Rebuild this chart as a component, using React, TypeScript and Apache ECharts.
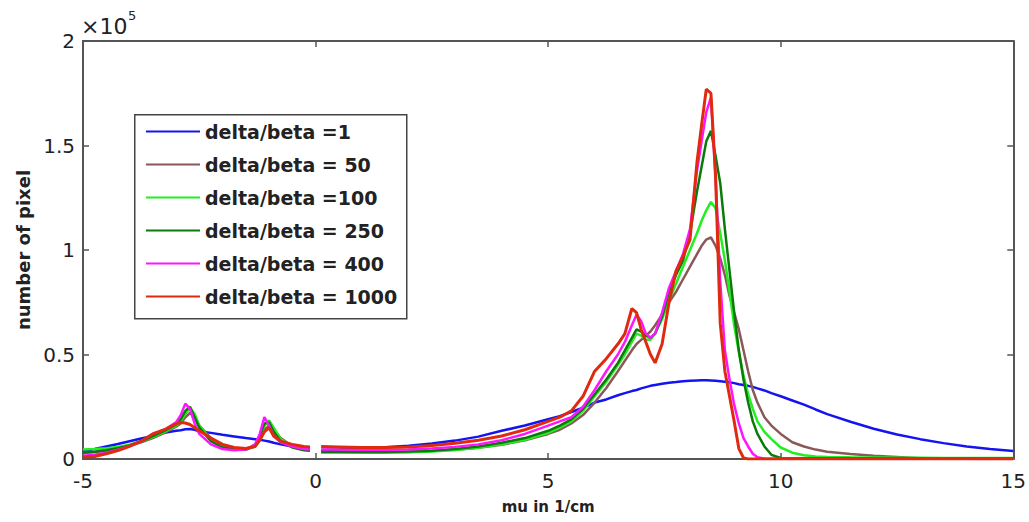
import React, { useEffect, useRef } from "react";
import * as echarts from "echarts";

// x positions (mu in 1/cm); null value marks the gap at 0
const muValues: number[] = [
  -5, -4.75, -4.5, -4.25, -4, -3.75, -3.5, -3.25, -3, -2.9, -2.8, -2.7, -2.6, -2.5, -2.25, -2, -1.75, -1.5, -1.3, -1.2, -1.1, -1.0, -0.9, -0.75, -0.5, -0.25, -0.12,
  -0.02,
  0.12, 0.5, 1, 1.5, 2, 2.5, 3, 3.5, 4, 4.5, 5, 5.25, 5.5, 5.75, 6, 6.25, 6.5, 6.65, 6.8, 6.9, 7.0, 7.1, 7.2, 7.3, 7.45, 7.6, 7.75, 7.9, 8.05, 8.2, 8.3, 8.4, 8.5, 8.6, 8.7, 8.8, 8.9, 9.0, 9.1, 9.2, 9.3, 9.4, 9.5, 9.65, 9.8, 10, 10.25, 10.5, 10.75, 11, 11.5, 12, 12.5, 13, 13.5, 14, 14.5, 15,
];

// number of pixel, in units of 10^5
const db1: (number | null)[] = [
  0.038, 0.048, 0.06, 0.072, 0.085, 0.098, 0.11, 0.125, 0.135, 0.138, 0.142, 0.143, 0.14, 0.133, 0.125, 0.116, 0.108, 0.1, 0.095, 0.092, 0.088, 0.084, 0.078, 0.07, 0.06, 0.053, 0.05,
  null,
  0.043, 0.045, 0.05, 0.056, 0.064, 0.074, 0.088, 0.107, 0.135, 0.16, 0.19, 0.205, 0.225, 0.245, 0.27, 0.285, 0.305, 0.315, 0.325, 0.33, 0.338, 0.344, 0.35, 0.354, 0.36, 0.365, 0.368, 0.372, 0.374, 0.376, 0.377, 0.377, 0.376, 0.374, 0.372, 0.37, 0.367, 0.363, 0.358, 0.354, 0.35, 0.345, 0.338, 0.328, 0.315, 0.3, 0.28, 0.26, 0.237, 0.215, 0.178, 0.145, 0.117, 0.095, 0.076, 0.06, 0.048, 0.038,
];
const db50: (number | null)[] = [
  0.03, 0.034, 0.04, 0.05, 0.063, 0.08, 0.1, 0.125, 0.155, 0.17, 0.2, 0.22, 0.2, 0.16, 0.1, 0.065, 0.05, 0.05, 0.06, 0.09, 0.14, 0.16, 0.14, 0.1, 0.06, 0.045, 0.042,
  null,
  0.035, 0.034, 0.033, 0.033, 0.034, 0.038, 0.044, 0.054, 0.068, 0.09, 0.12, 0.14, 0.17, 0.21, 0.27, 0.34, 0.42, 0.47, 0.52, 0.55, 0.57, 0.59, 0.61, 0.64, 0.69, 0.75, 0.8, 0.86, 0.92, 0.98, 1.02, 1.05, 1.06, 1.02, 0.96, 0.88, 0.78, 0.7, 0.62, 0.52, 0.42, 0.33, 0.27, 0.2, 0.16, 0.12, 0.08, 0.06, 0.045, 0.035, 0.024, 0.016, 0.01, 0.004, 0.002, 0.001, 0, 0,
];
const db100: (number | null)[] = [
  0.045, 0.048, 0.052, 0.058, 0.068, 0.085, 0.105, 0.13, 0.16, 0.18, 0.215, 0.245, 0.215, 0.16, 0.09, 0.058, 0.045, 0.045, 0.06, 0.1, 0.16, 0.185, 0.15, 0.095, 0.058, 0.045, 0.042,
  null,
  0.03, 0.03, 0.03, 0.03, 0.032, 0.036, 0.043, 0.054, 0.07, 0.092, 0.125, 0.15, 0.18, 0.23, 0.3, 0.37, 0.45, 0.5, 0.56, 0.6, 0.59, 0.57, 0.57, 0.6, 0.67, 0.76, 0.84, 0.92, 1.0, 1.08, 1.14, 1.19, 1.23, 1.2, 1.08, 0.95, 0.8, 0.64, 0.51, 0.4, 0.31, 0.24, 0.18, 0.13, 0.095, 0.055, 0.03, 0.018, 0.012, 0.01, 0.008, 0.007, 0.006, 0.006, 0.005, 0.005, 0.005, 0.005,
];
const db250: (number | null)[] = [
  0.03, 0.035, 0.042, 0.052, 0.065, 0.085, 0.11, 0.135, 0.165, 0.19, 0.23, 0.25, 0.2, 0.15, 0.085, 0.055, 0.045, 0.045, 0.065, 0.11, 0.17, 0.175, 0.13, 0.085, 0.055, 0.042, 0.04,
  null,
  0.035, 0.035, 0.034, 0.034, 0.036, 0.04, 0.048, 0.06, 0.078, 0.1, 0.135, 0.16, 0.19, 0.24, 0.31, 0.38, 0.46, 0.52, 0.58, 0.62, 0.61, 0.59, 0.58, 0.6, 0.68, 0.8, 0.88, 0.95, 1.08, 1.28, 1.4, 1.52, 1.57, 1.45, 1.32, 1.1, 0.9, 0.7, 0.52, 0.38, 0.27, 0.18, 0.12, 0.06, 0.02, 0.005, 0.003, 0.003, 0.003, 0.003, 0.003, 0.003, 0.003, 0.003, 0.003, 0.003, 0.003, 0.003,
];
const db400: (number | null)[] = [
  0.015, 0.02, 0.03, 0.045, 0.062, 0.085, 0.12, 0.14, 0.175, 0.21, 0.265, 0.24, 0.17, 0.12, 0.07, 0.048, 0.042, 0.045, 0.07, 0.12, 0.2, 0.16, 0.11, 0.08, 0.06, 0.048, 0.045,
  null,
  0.045, 0.045, 0.044, 0.044, 0.045, 0.05, 0.058, 0.07, 0.09, 0.12, 0.16, 0.18, 0.2, 0.25, 0.33, 0.42, 0.5, 0.56, 0.64, 0.69, 0.66, 0.6, 0.58, 0.6, 0.7, 0.82, 0.9, 0.98, 1.1, 1.38, 1.52, 1.66, 1.73, 1.35, 0.85, 0.52, 0.38, 0.26, 0.17, 0.1, 0.06, 0.025, 0.008, 0.002, 0.001, 0.001, 0.001, 0.001, 0.001, 0.001, 0.001, 0.001, 0.001, 0.001, 0.001, 0.001, 0.001, 0.001,
];
const db1000: (number | null)[] = [
  0.01, 0.012, 0.025, 0.04, 0.06, 0.085, 0.12, 0.14, 0.168, 0.175, 0.172, 0.165, 0.15, 0.135, 0.1, 0.07, 0.055, 0.05, 0.06, 0.09, 0.13, 0.15, 0.11, 0.085, 0.07, 0.06, 0.058,
  null,
  0.06, 0.058, 0.055, 0.055, 0.058, 0.065, 0.075, 0.09, 0.11, 0.14, 0.18, 0.2, 0.23, 0.3, 0.42, 0.48, 0.55, 0.6, 0.72, 0.7, 0.62, 0.56, 0.5, 0.46, 0.55, 0.75, 0.9, 0.97, 1.05, 1.42, 1.6, 1.77, 1.75, 1.35, 0.65, 0.42, 0.3, 0.18, 0.05, 0.005, 0, 0, 0, 0, 0, 0, 0, 0, 0, 0, 0, 0, 0, 0, 0, 0, 0, 0,
];

const seriesNames: string[] = [
  "delta/beta =1",
  "delta/beta = 50",
  "delta/beta =100",
  "delta/beta = 250",
  "delta/beta = 400",
  "delta/beta = 1000",
];
const seriesValues = [db1, db50, db100, db250, db400, db1000];
const seriesColors: string[] = ["#1414f0", "#8a5858", "#22ee22", "#0a7a0a", "#ff14ff", "#e02a10"];
const seriesWidths: number[] = [2.5, 2.5, 2.5, 2.5, 2.5, 3];

const xTicks = { min: -5, max: 15, interval: 5 };
const yTicks = { min: 0, max: 2, interval: 0.5 };

export default function App() {
  const ref = useRef<HTMLDivElement>(null);
  useEffect(() => {
    if (!ref.current) return;
    const chart = echarts.init(ref.current, undefined, { renderer: "svg" });
    const axisLine = { show: true, onZero: false, lineStyle: { color: "#555", width: 2 } };
    const axisTick = { show: true, inside: true, length: 6, lineStyle: { color: "#555", width: 1.5 } };
    const tickFont = { fontFamily: "DejaVu Sans", fontSize: 20, color: "#222" };
    chart.setOption({
      animation: false,
      backgroundColor: "#ffffff",
      grid: { left: 83, right: 15, top: 41, bottom: 63, containLabel: false },
      xAxis: [
        {
          type: "value",
          ...xTicks,
          position: "bottom",
          axisLine,
          axisTick,
          splitLine: { show: false },
          axisLabel: { ...tickFont, margin: 12, formatter: (v: number) => String(v) },
          name: "mu in 1/cm",
          nameLocation: "middle",
          nameGap: 40,
          nameTextStyle: { fontFamily: "DejaVu Sans", fontWeight: "bold", fontSize: 15, color: "#222" },
        },
        {
          type: "value",
          ...xTicks,
          position: "top",
          axisLine,
          axisTick,
          splitLine: { show: false },
          axisLabel: { show: false },
        },
      ],
      yAxis: [
        {
          type: "value",
          ...yTicks,
          position: "left",
          axisLine,
          axisTick,
          splitLine: { show: false },
          axisLabel: { ...tickFont, margin: 8, formatter: (v: number) => String(v) },
          name: "number of pixel",
          nameLocation: "middle",
          nameGap: 48,
          nameTextStyle: { fontFamily: "DejaVu Sans", fontWeight: "bold", fontSize: 18, color: "#222" },
        },
        {
          type: "value",
          ...yTicks,
          position: "right",
          axisLine,
          axisTick,
          splitLine: { show: false },
          axisLabel: { show: false },
        },
      ],
      legend: {
        orient: "vertical",
        left: 134,
        top: 114,
        padding: [8, 8, 8, 11],
        itemWidth: 54,
        itemHeight: 14,
        itemGap: 14,
        z: 10,
        itemStyle: { opacity: 0, borderWidth: 0 },
        textStyle: { fontFamily: "DejaVu Sans", fontWeight: "bold", fontSize: 19, color: "#222" },
        data: seriesNames,
      },
      graphic: [
        {
          type: "rect",
          left: 134,
          top: 114,
          z: 5,
          shape: { width: 272, height: 204 },
          style: { fill: "#fff", stroke: "#444", lineWidth: 1.5 },
        },
        {
          type: "text",
          left: 81,
          top: 15,
          style: { text: "×10", fontFamily: "DejaVu Sans", fontSize: 22, fill: "#222" },
        },
        {
          type: "text",
          left: 128,
          top: 9,
          style: { text: "5", fontFamily: "DejaVu Sans", fontSize: 13, fill: "#222" },
        },
      ],
      series: seriesNames.map((name, si) => ({
        name,
        type: "line",
        xAxisIndex: 0,
        yAxisIndex: 0,
        showSymbol: false,
        symbol: "none",
        connectNulls: false,
        lineStyle: { color: seriesColors[si], width: seriesWidths[si] },
        itemStyle: { color: seriesColors[si] },
        data: muValues.map((x, i) => [x, seriesValues[si][i] == null ? "-" : seriesValues[si][i]]),
      })),
    });
    return () => chart.dispose();
  }, []);
  return <div ref={ref} style={{ position: "fixed", left: 0, top: 0, width: 1029, height: 522 }} />;
}
